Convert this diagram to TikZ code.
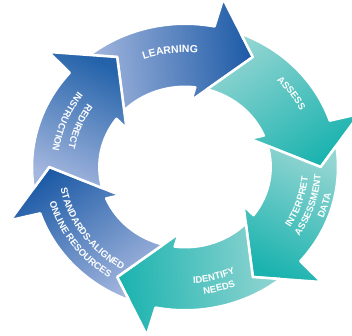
\documentclass[tikz,border=0pt]{standalone}
\usepackage{fontspec}
\setsansfont{Liberation Sans}
\usetikzlibrary{decorations.text}

\definecolor{deepblue}{HTML}{1D5BA6}
\definecolor{midblue}{HTML}{2463AA}
\definecolor{paleblue}{HTML}{A3B6DE}
\definecolor{deepteal}{HTML}{1BB3AF}
\definecolor{paleteal}{HTML}{93D5D2}

\tikzset{
    ringarrow/.style={draw=white, line width=2.5pt, line join=round},
}

% #1 tip angle, #2 tail colour, #3 head colour
\newcommand{\cyclearrow}[3]{
    \pgfmathsetmacro{\shadeang}{#1-145}
    \path[ringarrow, top color=#3, bottom color=#2, shading angle=\shadeang]
        ({#1+68.56}:150) arc[start angle={#1+68.56}, end angle={#1+18.88}, radius=150]
        -- ({#1+18}:180) -- ({#1}:133) -- ({#1+25}:70) -- ({#1+23.07}:84)
        arc[start angle={#1+23.07}, end angle={#1+75.25}, radius=84]
        -- ({#1+60}:133) -- cycle;
}

% #1 start angle, #2 end angle, #3 radius, #4 font size, #5 text
\newcommand{\ringtext}[5]{
    \path[decorate, decoration={text along path, text align=center,
        text={|\sffamily\bfseries\fontsize{#4}{#4}\selectfont\color{white}|#5}}]
        ({#1}:#3) arc[start angle=#1, end angle=#2, radius=#3];
}

\begin{document}
\begin{tikzpicture}[x=1pt, y=1pt]
    \useasboundingbox (-185,-168) rectangle (167,167);

    \begin{scope}[xscale=1.02, yscale=0.955]
        \cyclearrow{60}{paleblue}{deepblue}
        \cyclearrow{0}{paleteal}{deepteal}
        \cyclearrow{-60}{paleteal}{deepteal}
        \cyclearrow{-120}{paleteal}{deepteal}
        \cyclearrow{180}{paleblue}{deepblue}
        \cyclearrow{120}{paleblue}{midblue}

        % clockwise labels on top
        \ringtext{127}{67}{120}{10.5}{LEARNING}
        \ringtext{66}{6}{127.5}{9.5}{ASSESS}

        % counter-clockwise labels
        \ringtext{-50}{14}{121}{9.5}{INTERPRET}
        \ringtext{-50}{14}{133.5}{9.5}{ASSESSMENT}
        \ringtext{-48}{16}{146}{9.5}{DATA}
        \ringtext{-106}{-46}{122}{9.5}{IDENTIFY}
        \ringtext{-105}{-45}{134.5}{9.5}{NEEDS}
        \ringtext{180}{250}{124}{9.5}{STANDARDS-ALIGNED}
        \ringtext{181}{251}{138}{9.5}{ONLINE RESOURCES}
        \ringtext{128}{188}{116}{9.5}{REDIRECT}
        \ringtext{128}{188}{131}{9.5}{INSTRUCTION}
    \end{scope}
\end{tikzpicture}
\end{document}
